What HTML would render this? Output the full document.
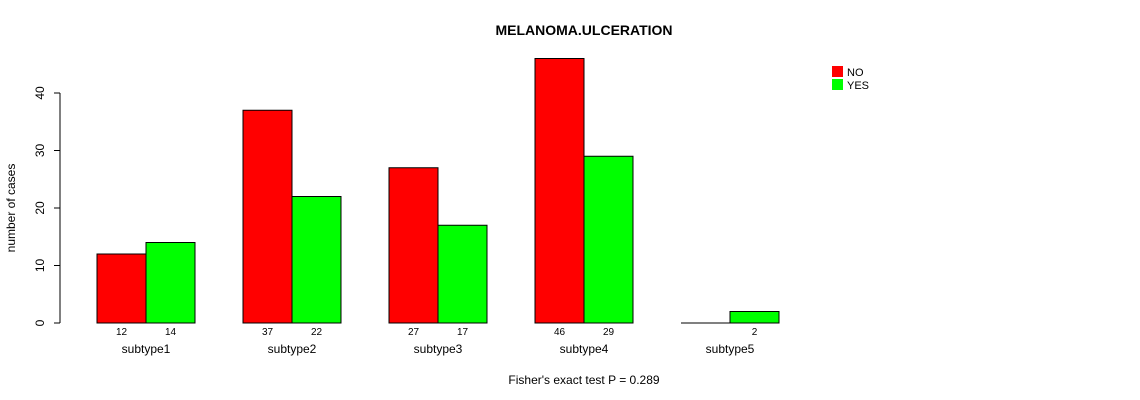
<!DOCTYPE html>
<html><head><meta charset="utf-8"><style>
body{margin:0;background:#fff}
svg{display:block;font-family:"Liberation Sans",Arial,sans-serif}
</style></head><body>
<svg id="chart" width="1140" height="400" viewBox="0 0 1140 400">
<text x="584" y="35" text-anchor="middle" font-size="14" font-weight="bold">MELANOMA.ULCERATION</text>
<text transform="translate(15,208) rotate(-90)" text-anchor="middle" font-size="12">number of cases</text>
<text x="584" y="384" text-anchor="middle" font-size="12">Fisher's exact test P = 0.289</text>
<g id="yaxis"></g>
<g id="bars"></g>
<g>
<g><rect x="832" y="66" width="11" height="11" fill="#ff0000"/><text x="847" y="76" font-size="11">NO</text></g>
<g><rect x="832" y="79" width="11" height="11" fill="#00ff00"/><text x="847" y="89" font-size="11">YES</text></g>
</g>
</svg>
<script>
const categories=["subtype1","subtype2","subtype3","subtype4","subtype5"];
const noValues=[12,37,27,46,0];
const yesValues=[14,22,17,29,2];
const yTicks=[0,10,20,30,40];
const NS="http://www.w3.org/2000/svg";
function y(v){return 323-v*5.75;}
function groupX(i){return 97+i*146;}
const bw=49;
function mk(tag,attrs,parent,txt){const e=document.createElementNS(NS,tag);for(const k in attrs)e.setAttribute(k,attrs[k]);if(txt!==undefined)e.textContent=txt;parent.appendChild(e);return e;}
const ya=document.getElementById('yaxis');
mk('line',{x1:60,x2:60,y1:y(0),y2:y(40),stroke:'#000'},ya);
yTicks.forEach(t=>{
 const l=mk('line',{x1:54,x2:60,y1:y(t),y2:y(t),stroke:'#000'},ya);
 
 
 const tx=mk('text',{transform:`translate(44,${y(t)}) rotate(-90)`,'text-anchor':'middle','font-size':12},ya,String(t));
 
 
});
const bg=document.getElementById('bars');
categories.forEach((c,i)=>{
 const x=groupX(i);
 [[noValues[i],'#ff0000',0,'no'],[yesValues[i],'#00ff00',1,'yes']].forEach(([v,col,k,n])=>{
  const bx=x+k*bw;
  let r;
  if(v>0){
   r=mk('rect',{x:bx,y:y(v),width:bw,height:y(0)-y(v),fill:col,stroke:'#000','stroke-width':1},bg);
  } else {
   r=mk('line',{x1:bx,x2:bx+bw,y1:y(0),y2:y(0),stroke:'#000','stroke-width':1},bg);
  }
  
  
  if(v>0){
   const t=mk('text',{x:bx+bw/2,y:335,'text-anchor':'middle','font-size':10},bg,String(v));
   
   
  }
 });
 const cl=mk('text',{x:x+bw,y:353,'text-anchor':'middle','font-size':12},bg,c);
 
 
});
</script>
</body></html>
